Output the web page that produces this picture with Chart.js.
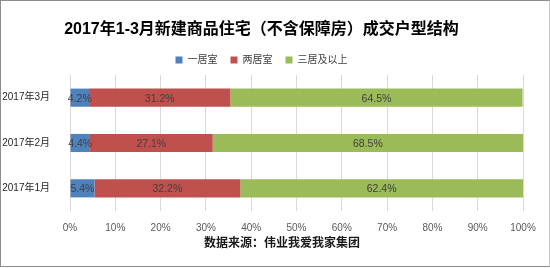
<!DOCTYPE html>
<html>
<head>
<meta charset="utf-8">
<script src="https://cdn.jsdelivr.net/npm/chart.js@4/dist/chart.umd.min.js"></script>
<style>
  html, body { margin: 0; padding: 0; background: #fff; }
  #wrap { position: relative; width: 550px; height: 268px; }
  #frame { position: absolute; left: 0; top: 0; width: 548px; height: 265px; border: 1px solid #8c8c8c; border-right-color: #c8c8c8; pointer-events: none; }
  canvas { display: block; }
</style>
</head>
<body>
<div id="wrap">
  <canvas id="c" width="550" height="268"></canvas>
  <div id="frame"></div>
</div>
<script>
const titleText = '2017年1-3月新建商品住宅（不含保障房）成交户型结构';
const sourceText = '数据来源：伟业我爱我家集团';
const categories = ['2017年3月', '2017年2月', '2017年1月'];
const seriesNames = ['一居室', '两居室', '三居及以上'];
const oneRoom = [4.2, 4.4, 5.4];
const twoRoom = [31.2, 27.1, 32.2];
const threePlus = [64.5, 68.5, 62.4];
const xTicks = [0, 10, 20, 30, 40, 50, 60, 70, 80, 90, 100];
const colors = ['#4F81BD', '#C0504D', '#9BBB59'];

const FONT = '"Liberation Sans", "Noto Sans CJK SC", sans-serif';

const labelPlugin = {
  id: 'barLabels',
  afterDatasetsDraw(chart) {
    const ctx = chart.ctx;
    ctx.save();
    ctx.font = '10.5px ' + FONT;
    ctx.fillStyle = '#404040';
    ctx.textAlign = 'center';
    ctx.textBaseline = 'middle';
    chart.data.datasets.forEach((ds, i) => {
      const meta = chart.getDatasetMeta(i);
      meta.data.forEach((el, j) => {
        const p = el.getCenterPoint();
        ctx.fillText(ds.data[j].toFixed(1) + '%', p.x, p.y + 1);
      });
    });
    ctx.restore();
  }
};

const sourcePlugin = {
  id: 'sourceText',
  afterDraw(chart) {
    const ctx = chart.ctx;
    ctx.save();
    ctx.font = 'bold 12px "Noto Sans CJK SC", sans-serif';
    ctx.fillStyle = '#1a1a1a';
    ctx.textAlign = 'center';
    ctx.textBaseline = 'middle';
    ctx.fillText(sourceText, 282, 242);
    ctx.restore();
  }
};

new Chart(document.getElementById('c'), {
  type: 'bar',
  data: {
    labels: categories,
    datasets: [
      { label: seriesNames[0], data: oneRoom, backgroundColor: colors[0] },
      { label: seriesNames[1], data: twoRoom, backgroundColor: colors[1] },
      { label: seriesNames[2], data: threePlus, backgroundColor: colors[2] }
    ]
  },
  plugins: [labelPlugin, sourcePlugin],
  options: {
    indexAxis: 'y',
    responsive: false,
    animation: false,
    devicePixelRatio: 1,
    layout: { padding: { left: 0, right: 27, top: 0, bottom: 0 } },
    datasets: { bar: { barPercentage: 0.4, categoryPercentage: 1 } },
    plugins: {
      title: {
        display: true,
        text: titleText,
        color: '#000',
        font: { family: FONT, size: 16, weight: 'bold' },
        padding: { top: 7, bottom: 3 }
      },
      legend: {
        display: true,
        position: 'top',
        labels: {
          boxWidth: 7,
          boxHeight: 7,
          padding: 13,
          color: '#404040',
          font: { family: FONT, size: 10 }
        }
      },
      tooltip: { enabled: false }
    },
    scales: {
      x: {
        stacked: true,
        min: 0,
        max: 100,
        afterBuildTicks(scale) { scale.ticks = xTicks.map(v => ({ value: v })); },
        afterFit(scale) { scale.height = 57; },
        ticks: {
          callback: v => v + '%',
          color: '#595959',
          font: { family: FONT, size: 10 },
          padding: 11,
          maxRotation: 0,
          autoSkip: false
        },
        grid: { color: '#D9D9D9', drawTicks: false },
        border: { display: false }
      },
      y: {
        stacked: true,
        afterFit(scale) { scale.width = 70; scale.paddingTop = 75; },
        ticks: {
          color: '#262626',
          font: { family: FONT, size: 10 },
          padding: 12
        },
        grid: { display: false },
        border: { display: false }
      }
    }
  }
});
</script>
</body>
</html>
